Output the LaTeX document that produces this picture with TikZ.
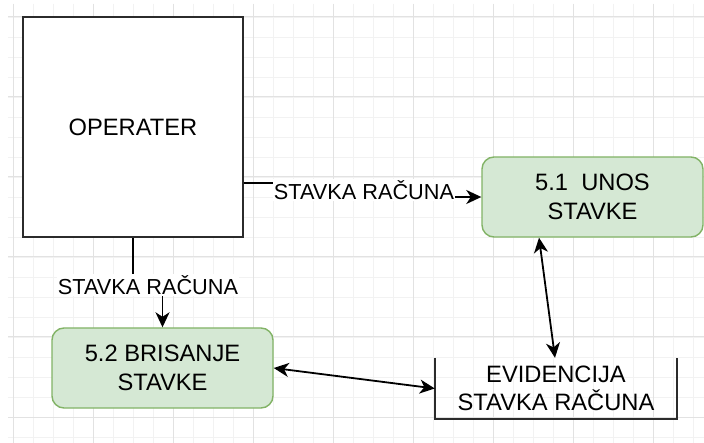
\documentclass[tikz,border=0pt]{standalone}
\usepackage{fontspec}
\setmainfont{Liberation Sans}
\usetikzlibrary{arrows.meta,calc}
\definecolor{gminor}{HTML}{F2F2F2}
\definecolor{gmajor}{HTML}{E2E2E2}
\definecolor{gfill}{HTML}{D5E8D4}
\definecolor{gline}{HTML}{82B366}
\definecolor{dline}{HTML}{2B2B2B}
\tikzset{
  minorgrid/.style={draw=gminor,line width=0.9pt},
  majorgrid/.style={draw=gmajor,line width=1pt},
  entity/.style={draw=dline,line width=1.8pt,fill=white,minimum width=220pt,minimum height=220pt,inner sep=0pt,font=\fontsize{23.7}{28.5}\selectfont},
  proc/.style={draw=gline,line width=1.4pt,fill=gfill,rounded corners=12pt,minimum width=221pt,minimum height=80pt,inner sep=0pt,align=center,font=\fontsize{23.7}{28.5}\selectfont},
  store/.style={minimum width=242pt,minimum height=61pt,inner sep=0pt,align=center,font=\fontsize{23.7}{28.5}\selectfont},
  storeline/.style={draw=dline,line width=1.8pt},
  flow/.style={draw=black,line width=1.8pt},
  flowlabel/.style={fill=white,inner sep=1pt,font=\fontsize{21.7}{24}\selectfont}
}
\begin{document}
\begin{tikzpicture}[x=1pt,y=-1pt,
  >={Stealth[length=15pt,width=14pt,inset=4.5pt]}]
\useasboundingbox (0,0) rectangle (704,443);
\fill[white] (0,0) rectangle (704,443);
% grid
\foreach \x in {13,33,...,703} \draw[minorgrid] (\x,4) -- (\x,443);
\foreach \y in {17,37,...,443} \draw[minorgrid] (8,\y) -- (704,\y);
\foreach \x in {13,93,...,703} \draw[majorgrid] (\x,4) -- (\x,443);
\foreach \y in {17,97,...,443} \draw[majorgrid] (8,\y) -- (704,\y);
% nodes
\node[entity] (op) at (133,127) {OPERATER};
\node[proc] (p51) at (592.5,197) {5.1\ \ UNOS\\STAVKE};
\node[proc] (p52) at (162.5,368) {5.2 BRISANJE\\STAVKE};
\node[store] (ev) at (556,388.5) {EVIDENCIJA\\STAVKA RAČUNA};
\draw[storeline] (ev.north west) -- (ev.south west) -- (ev.south east) -- (ev.north east);
% connectors
\draw[flow,->] ([yshift=-56pt]op.east) -- ++(121,0) |- (p51.west);
\node[flowlabel] (l1) at (364,190) {STAVKA RAČUNA};
\draw[flow,->] (op.south) -- ++(0,48) -| (p52.north);
\node[flowlabel] (l2) at (148,285) {STAVKA RAČUNA};
\draw[flow,<->] ([xshift=-53.5pt]p51.south) -- ([xshift=-1pt]ev.north);
\draw[flow,<->] (p52.east) -- (ev.west);
\end{tikzpicture}
\end{document}
